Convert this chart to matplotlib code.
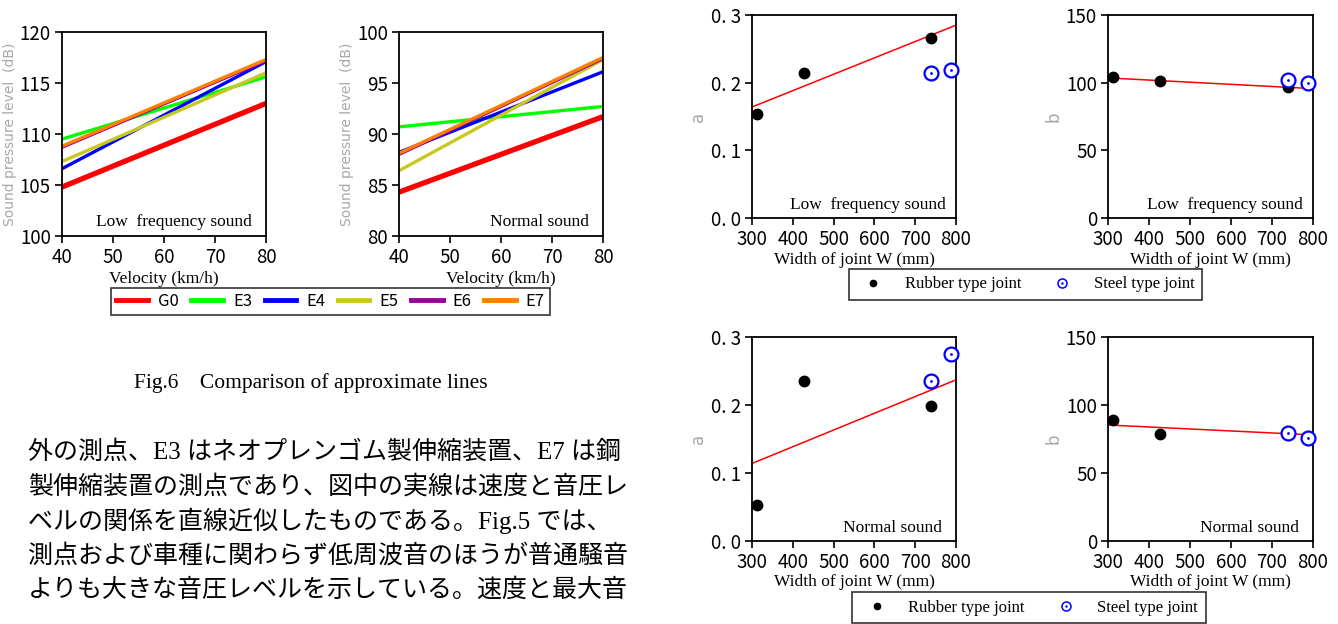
import numpy as np
import matplotlib
matplotlib.use("Agg")
import matplotlib.pyplot as plt
from matplotlib.lines import Line2D

# Fig.6: approximate lines, sound pressure level vs velocity
velocity = [40, 80]
series = ["G0", "E3", "E4", "E5", "E6", "E7"]
low_spl = {
    "G0": [104.8, 113.0],
    "E3": [109.5, 115.6],
    "E4": [106.6, 117.1],
    "E5": [107.3, 116.0],
    "E6": [108.7, 117.2],
    "E7": [108.8, 117.3],
}
normal_spl = {
    "G0": [84.3, 91.7],
    "E3": [90.7, 92.7],
    "E4": [88.2, 96.1],
    "E5": [86.4, 97.3],
    "E6": [88.0, 97.4],
    "E7": [88.1, 97.5],
}
series_colors = {"G0": "#ff0000", "E3": "#00ff00", "E4": "#0000ff",
                 "E5": "#c8c820", "E6": "#990099", "E7": "#ff8000"}

# coefficients a, b vs joint width
rubber_w = [312, 428, 738]
steel_w = [738, 788]
low_a_rubber = [0.154, 0.214, 0.266]
low_a_steel = [0.215, 0.219]
low_b_rubber = [104.2, 101.3, 96.5]
low_b_steel = [101.7, 99.8]
norm_a_rubber = [0.053, 0.235, 0.198]
norm_a_steel = [0.236, 0.275]
norm_b_rubber = [89.0, 78.7, 79.5]
norm_b_steel = [79.2, 75.7]
fit_w = [300, 800]
low_a_fit = [0.164, 0.285]
low_b_fit = [103.5, 95.6]
norm_a_fit = [0.114, 0.237]
norm_b_fit = [85.3, 78.0]

text_lines = [
    "外の測点、E3 はネオプレンゴム製伸縮装置、E7 は鋼",
    "製伸縮装置の測点であり、図中の実線は速度と音圧レ",
    "ベルの関係を直線近似したものである。Fig.5 では、",
    "測点および車種に関わらず低周波音のほうが普通騒音",
    "よりも大きな音圧レベルを示している。速度と最大音",
]

W, H = 1338, 624
GOTHIC = "Noto Sans CJK JP"
SERIF = "Liberation Serif"

fig = plt.figure(figsize=(W / 100, H / 100), dpi=100)
fig.patch.set_facecolor("white")


def px_axes(l, t, r, b):
    return fig.add_axes([l / W, 1 - b / H, (r - l) / W, (b - t) / H])


def style(ax):
    for s in ax.spines.values():
        s.set_linewidth(1.3)
    ax.tick_params(direction="out", length=5, width=1.2, pad=3,
                   labelsize=13.5, top=False, right=False)
    for lab in ax.get_xticklabels() + ax.get_yticklabels():
        lab.set_family(GOTHIC)


# ---- left: SPL vs velocity ----
def spl_panel(box, data, ylim, note, note_x):
    ax = px_axes(*box)
    for s in series:
        lw = 3.8 if s == "G0" else 2.4
        ax.plot(velocity, data[s], color=series_colors[s], lw=lw,
                solid_capstyle="butt")
    ax.set_xlim(40, 80)
    ax.set_ylim(*ylim)
    ax.set_xticks([40, 50, 60, 70, 80])
    ax.set_yticks(np.arange(ylim[0], ylim[1] + 1, 5))
    style(ax)
    ax.set_xlabel("Velocity (km/h)", family=SERIF, fontsize=12.5, labelpad=2)
    ax.set_ylabel("Sound pressure level  (dB)", family="DejaVu Sans",
                  fontsize=10, color="#a8a8a8")
    ax.yaxis.set_label_coords(-0.22, 0.5)
    ax.text(note_x, 0.07, note, transform=ax.transAxes, family=SERIF,
            fontsize=12.5, ha="center", va="center")
    return ax


spl_panel((62, 32, 266, 236), low_spl, (100, 120), "Low  frequency sound", 0.55)
spl_panel((399, 32, 603, 236), normal_spl, (80, 100), "Normal sound", 0.69)

handles = [Line2D([], [], color=series_colors[s], lw=3.5) for s in series]
leg = fig.legend(handles, series, ncol=6, loc="center",
                 bbox_to_anchor=(330.5 / W, 1 - 301 / H),
                 prop={"family": GOTHIC, "size": 12}, frameon=True,
                 fancybox=False, edgecolor="black", handlelength=1.9,
                 handletextpad=0.6, columnspacing=0.75, borderpad=0.3)
leg.get_frame().set_linewidth(1.2)

fig.text(311 / W, 1 - 383 / H, "Fig.6    Comparison of approximate lines",
         family=SERIF, fontsize=15.5, ha="center", va="center")

for i, line in enumerate(text_lines):
    fig.text(28 / W, 1 - (452 + i * 34.5) / H, line,
             family=[SERIF, GOTHIC], fontsize=18, ha="left", va="center")


# ---- right: coefficients vs joint width ----
def coef_panel(box, rub, steel, fit, ylim, yticks, ylab, fmt, note, note_x):
    ax = px_axes(*box)
    ax.plot(fit_w, fit, color="#ff0000", lw=1.1, zorder=2)
    ax.plot(rubber_w, rub, "o", color="black", ms=7.5, zorder=3)
    ax.plot(steel_w, steel, "o", mfc="white", mec="#0000ff", mew=1.6,
            ms=10, zorder=4)
    ax.plot(steel_w, steel, ".", color="#0000ff", ms=2, zorder=5)
    ax.set_xlim(300, 800)
    ax.set_ylim(*ylim)
    ax.set_xticks(range(300, 801, 100))
    ax.set_yticks(yticks)
    ax.set_yticklabels([fmt(v) for v in yticks])
    style(ax)
    ax.set_xlabel("Width of joint W (mm)", family=SERIF, fontsize=12.5,
                  labelpad=1)
    ax.set_ylabel(ylab, family="DejaVu Sans", fontsize=12, color="#a8a8a8")
    ax.yaxis.set_label_coords(-0.22, 0.5)
    ax.text(note_x, 0.065, note, transform=ax.transAxes, family=SERIF,
            fontsize=12.5, ha="center", va="center")
    for c in ax.get_children():
        if isinstance(c, Line2D):
            c.set_clip_on(False)
    return ax


a_fmt = lambda v: f"{v:.1f}".replace(".", ". ")
b_fmt = lambda v: f"{v:.0f}"
a_ticks = [0.0, 0.1, 0.2, 0.3]
b_ticks = [0, 50, 100, 150]

coef_panel((752, 15, 956, 218), low_a_rubber, low_a_steel, low_a_fit,
           (0, 0.3), a_ticks, "a", a_fmt, "Low  frequency sound", 0.57)
coef_panel((1108, 15, 1313, 218), low_b_rubber, low_b_steel, low_b_fit,
           (0, 150), b_ticks, "b", b_fmt, "Low  frequency sound", 0.57)
coef_panel((752, 337, 956, 541), norm_a_rubber, norm_a_steel, norm_a_fit,
           (0, 0.3), a_ticks, "a", a_fmt, "Normal sound", 0.69)
coef_panel((1108, 337, 1313, 541), norm_b_rubber, norm_b_steel, norm_b_fit,
           (0, 150), b_ticks, "b", b_fmt, "Normal sound", 0.69)

rub_h = Line2D([], [], ls="none", marker="o", color="black", ms=4.5)
steel_h = (Line2D([], [], ls="none", marker="o", mfc="white", mec="#0000ff",
                  mew=1.1, ms=6.5),
           Line2D([], [], ls="none", marker=".", color="#0000ff", ms=1.5))
for yc, xc in ((284.5, 1025.5), (607.5, 1029)):
    lg = fig.legend([rub_h, steel_h], ["Rubber type joint", "Steel type joint"],
                    ncol=2, loc="center", bbox_to_anchor=(xc / W, 1 - yc / H),
                    prop={"family": SERIF, "size": 12}, frameon=True,
                    fancybox=False, edgecolor="black", handlelength=2.0,
                    handletextpad=0.9, columnspacing=1.45, borderpad=0.45)
    lg.get_frame().set_linewidth(1.2)

fig.savefig("out.png", dpi=100)
